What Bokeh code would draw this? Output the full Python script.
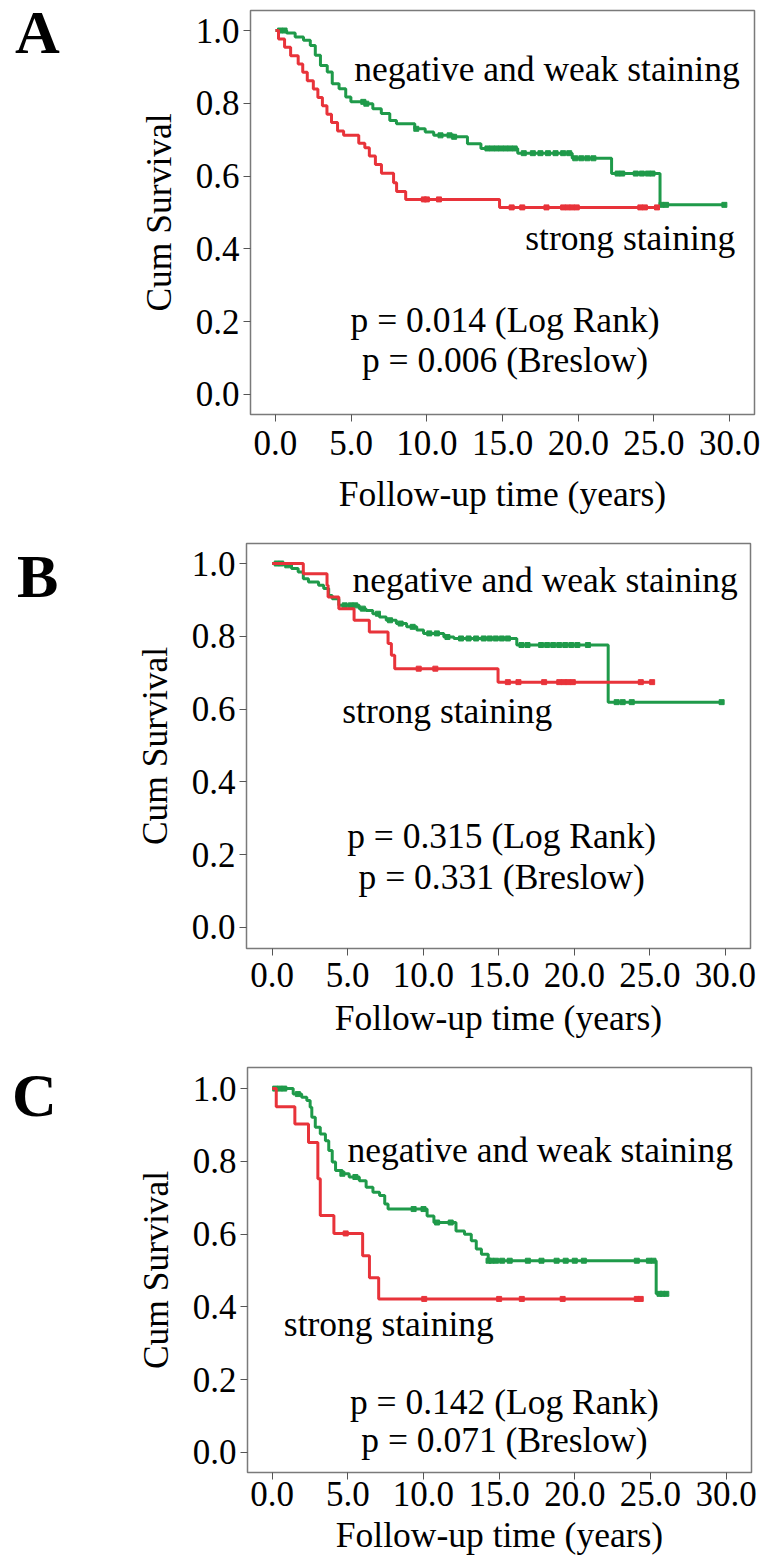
import numpy as np
from bokeh.plotting import figure
from bokeh.layouts import column, row
from bokeh.models import Label, Range1d, FixedTicker, PrintfTickFormatter, ColumnDataSource, Div
from bokeh.embed import file_html
from bokeh.resources import INLINE

# ---------------- data ----------------
x_ticks = [0, 5, 10, 15, 20, 25, 30]
y_ticks = [0.0, 0.2, 0.4, 0.6, 0.8, 1.0]
x_title = "Follow-up time (years)"
y_title = "Cum Survival"
label_neg = "negative and weak staining"
label_strong = "strong staining"
panel_letters = ["A", "B", "C"]

# Panel A
A_strong_t = [0.0, 0.2, 0.6, 1.0, 1.5, 1.8, 2.1, 2.5, 2.8, 3.1, 3.4, 3.7, 4.1, 4.5, 5.5, 5.9, 6.2, 6.6, 7.0, 7.8, 8.0, 8.6, 14.8, 25.2]
A_strong_s = [1.0, 0.977, 0.954, 0.931, 0.908, 0.885, 0.862, 0.839, 0.816, 0.793, 0.770, 0.747, 0.724, 0.712, 0.690, 0.678, 0.655, 0.632, 0.608, 0.582, 0.558, 0.536, 0.514, 0.514]
A_strong_cens = [9.8, 10.0, 10.8, 15.6, 16.3, 17.9, 19.0, 19.3, 19.6, 19.9, 24.1, 24.4, 25.2]
A_neg_t = [0.0, 0.74, 1.30, 1.85, 2.30, 2.63, 2.97, 3.42, 3.75, 4.20, 4.64, 4.98, 5.98, 6.43, 6.99, 7.55, 7.99, 9.2, 9.89, 10.45, 11.8, 12.68, 13.57, 16.0, 19.6, 22.2, 25.4, 29.65]
A_neg_s = [1.0, 0.993, 0.982, 0.973, 0.959, 0.932, 0.904, 0.886, 0.854, 0.840, 0.817, 0.804, 0.799, 0.785, 0.772, 0.753, 0.744, 0.730, 0.721, 0.712, 0.708, 0.689, 0.676, 0.663, 0.649, 0.607, 0.521, 0.521]
A_neg_cens = [0.3, 0.6, 5.8, 6.0, 9.3, 10.9, 11.5, 11.8, 14.0, 14.3, 14.6, 14.9, 15.2, 15.5, 15.8, 16.4, 17.0, 17.5, 18.0, 18.5, 19.0, 19.4, 19.8, 20.2, 20.6, 21.0, 22.6, 22.9, 23.8, 24.2, 24.6, 24.9, 25.5, 25.8, 29.65]
A_p = ["p = 0.014 (Log Rank)", "p = 0.006 (Breslow)"]

# Panel B
B_strong_t = [0.0, 2.06, 3.63, 3.70, 4.41, 5.42, 6.43, 7.67, 7.89, 8.11, 14.95, 25.15]
B_strong_s = [1.0, 0.972, 0.940, 0.908, 0.876, 0.844, 0.812, 0.780, 0.748, 0.711, 0.674, 0.674]
B_strong_cens = [9.7, 10.8, 15.6, 16.3, 18.0, 19.0, 19.3, 19.6, 19.9, 24.4, 25.15]
B_neg_t = [0.0, 0.83, 1.28, 1.72, 2.06, 2.4, 3.07, 3.41, 3.74, 3.97, 4.41, 5.76, 6.21, 6.66, 7.1, 7.55, 8.22, 8.9, 9.57, 10.02, 11.36, 12.03, 16.19, 22.24, 29.75]
B_neg_s = [1.0, 0.995, 0.986, 0.977, 0.958, 0.949, 0.940, 0.931, 0.912, 0.903, 0.885, 0.876, 0.871, 0.862, 0.853, 0.844, 0.835, 0.826, 0.817, 0.808, 0.798, 0.794, 0.776, 0.619, 0.619]
B_neg_cens = [0.3, 0.6, 1.0, 4.8, 5.2, 5.5, 6.0, 7.0, 7.8, 8.5, 9.3, 10.4, 10.9, 11.6, 12.5, 13.0, 13.5, 14.0, 14.4, 14.8, 15.2, 15.6, 16.5, 16.9, 17.8, 18.2, 18.6, 19.0, 19.4, 19.8, 20.2, 20.9, 22.8, 23.2, 23.8, 29.75]
B_p = ["p = 0.315 (Log Rank)", "p = 0.331 (Breslow)"]

# Panel C
C_strong_t = [0.0, 0.27, 1.5, 2.4, 3.02, 3.18, 4.08, 5.98, 6.43, 7.04, 24.36]
C_strong_s = [1.0, 0.950, 0.903, 0.852, 0.752, 0.651, 0.602, 0.541, 0.480, 0.422, 0.422]
C_strong_cens = [4.86, 10.05, 15.0, 16.5, 19.2, 24.1, 24.36]
C_neg_t = [0.0, 1.39, 1.95, 2.29, 2.51, 2.62, 2.85, 3.18, 3.52, 3.74, 3.97, 4.19, 4.64, 5.09, 5.76, 6.21, 6.66, 7.1, 7.44, 7.66, 10.24, 10.69, 12.15, 12.71, 13.16, 13.49, 13.83, 14.28, 25.38, 26.05]
C_neg_s = [1.0, 0.985, 0.976, 0.967, 0.949, 0.921, 0.894, 0.875, 0.857, 0.830, 0.798, 0.775, 0.766, 0.757, 0.747, 0.729, 0.715, 0.706, 0.683, 0.669, 0.650, 0.632, 0.609, 0.600, 0.582, 0.559, 0.545, 0.527, 0.436, 0.436]
C_neg_cens = [0.2, 0.5, 0.8, 1.7, 4.64, 5.5, 9.35, 10.0, 10.9, 11.8, 14.3, 14.5, 14.8, 15.2, 15.7, 16.9, 17.8, 18.8, 19.4, 20.0, 20.6, 24.1, 24.9, 25.2, 25.6, 25.8, 26.05]
C_p = ["p = 0.142 (Log Rank)", "p = 0.071 (Breslow)"]

RED = "#e8333a"
GREEN = "#1f9a4a"
FONT = "Liberation Serif"
DIV_W = 80


def surv_at(t_steps, s_steps, times):
    idx = np.searchsorted(np.array(t_steps), np.array(times), side="right") - 1
    return [s_steps[i] for i in idx]


def panel(cfg):
    p = figure(frame_width=504, frame_height=cfg["fh"],
               min_border_left=cfg["fl"] - DIV_W, min_border_right=6,
               min_border_top=cfg["mt"], min_border_bottom=cfg["mb"],
               x_range=Range1d(*cfg["xr"]), y_range=Range1d(*cfg["yr"]),
               output_backend="svg", toolbar_location=None,
               background_fill_color="white", border_fill_color="white")
    p.outline_line_color = "#7a7a7a"
    p.outline_line_width = 1.5
    p.grid.visible = False
    for ax in (p.xaxis[0], p.yaxis[0]):
        ax.axis_line_color = None
        ax.major_tick_line_color = "#555555"
        ax.major_tick_line_width = 1
        ax.major_tick_out = 7
        ax.major_tick_in = 0
        ax.minor_tick_line_color = None
        ax.major_label_text_font = FONT
        ax.major_label_text_font_size = "35px"
        ax.major_label_text_color = "black"
        ax.axis_label_text_font = FONT
        ax.axis_label_text_font_size = "35.5px"
        ax.axis_label_text_font_style = "normal"
        ax.axis_label_text_color = "black"
        ax.formatter = PrintfTickFormatter(format="%.1f")
    p.xaxis.ticker = FixedTicker(ticks=x_ticks)
    p.yaxis.ticker = FixedTicker(ticks=y_ticks)
    p.xaxis.axis_label = x_title
    p.yaxis.axis_label = y_title
    p.xaxis.major_label_standoff = cfg["xls"]
    p.xaxis.axis_label_standoff = cfg["xts"]
    p.yaxis.major_label_standoff = 4
    p.yaxis.axis_label_standoff = 14

    for t, s, c, col in ((cfg["nt"], cfg["ns"], cfg["nc"], GREEN),
                         (cfg["st"], cfg["ss"], cfg["sc"], RED)):
        p.step(t, s, mode="after", line_color=col, line_width=3)
        src = ColumnDataSource(dict(x=c, y=surv_at(t, s, c)))
        p.scatter("x", "y", source=src, marker="square", size=5,
                  fill_color=col, line_color=col)

    def lab(text, x, y, align="left"):
        p.add_layout(Label(x=x, y=y, text=text, text_font=FONT, text_font_size="35.5px",
                           text_align=align, text_baseline="alphabetic", text_color="black"))

    lab(label_neg, *cfg["neg_pos"])
    lab(label_strong, *cfg["strong_pos"])
    lab(cfg["p"][0], cfg["p_x"], cfg["p_y"][0], align="center")
    lab(cfg["p"][1], cfg["p_x"], cfg["p_y"][1], align="center")

    height = cfg["mt"] + cfg["fh"] + cfg["mb"]
    div = Div(text=(f'<div style="font-family: \'{FONT}\'; font-weight: bold; font-size: 62px; '
                    f'line-height: 64px; color: black; padding-left: {cfg["lx"]}px; '
                    f'padding-top: {cfg["ly"]}px; margin: 0;">{cfg["letter"]}</div>'),
              width=DIV_W, height=height, margin=0)
    return row(div, p, spacing=0)


rA = panel(dict(fh=404, fl=250, mt=10, mb=110, xr=(-1.65, 31.64), yr=(-0.055, 1.055),
                xls=9, xts=16,
                st=A_strong_t, ss=A_strong_s, sc=A_strong_cens,
                nt=A_neg_t, ns=A_neg_s, nc=A_neg_cens,
                neg_pos=(5.2, 0.893), strong_pos=(16.5, 0.430),
                p=A_p, p_x=15.16, p_y=(0.204, 0.094),
                letter=panel_letters[0], lx=15, ly=0))
rB = panel(dict(fh=405, fl=246, mt=19, mb=98, xr=(-1.70, 31.66), yr=(-0.058, 1.055),
                xls=7, xts=8,
                st=B_strong_t, ss=B_strong_s, sc=B_strong_cens,
                nt=B_neg_t, ns=B_neg_s, nc=B_neg_cens,
                neg_pos=(5.31, 0.954), strong_pos=(4.64, 0.596),
                p=B_p, p_x=15.19, p_y=(0.25, 0.138),
                letter=panel_letters[1], lx=17, ly=20))
rC = panel(dict(fh=405, fl=247, mt=21, mb=92, xr=(-1.63, 31.68), yr=(-0.055, 1.058),
                xls=2, xts=6,
                st=C_strong_t, ss=C_strong_s, sc=C_strong_cens,
                nt=C_neg_t, ns=C_neg_s, nc=C_neg_cens,
                neg_pos=(4.98, 0.83), strong_pos=(0.77, 0.353),
                p=C_p, p_x=15.35, p_y=(0.139, 0.033),
                letter=panel_letters[2], lx=12, ly=17))

layout = column(rA, rB, rC, spacing=0)
open("out.html", "w").write(file_html(layout, INLINE))
